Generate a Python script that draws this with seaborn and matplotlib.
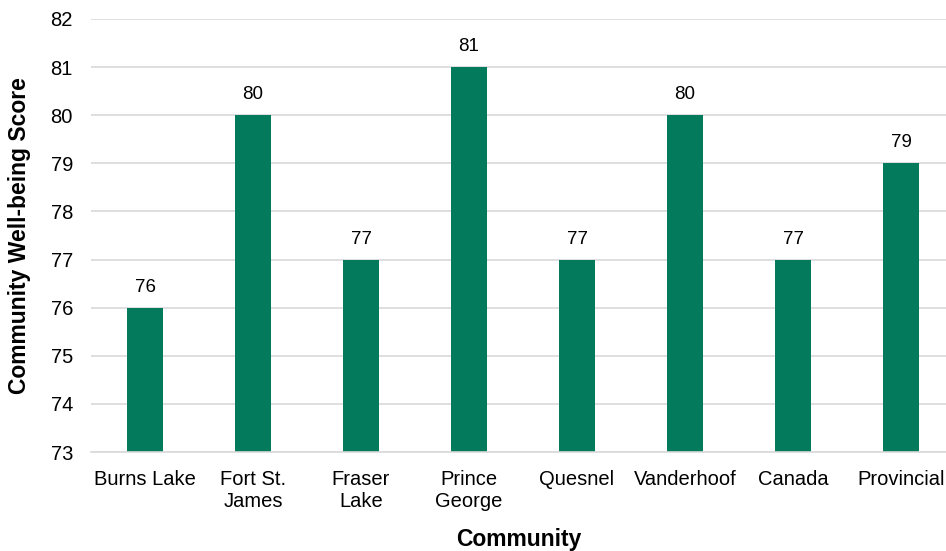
import matplotlib
matplotlib.use("Agg")
import matplotlib.pyplot as plt
import seaborn as sns
import pandas as pd

communities = ["Burns Lake", "Fort St.\nJames", "Fraser\nLake", "Prince\nGeorge",
               "Quesnel", "Vanderhoof", "Canada", "Provincial"]
scores = [76, 80, 77, 81, 77, 80, 77, 79]
y_ticks = [73, 74, 75, 76, 77, 78, 79, 80, 81, 82]

sns.set_theme(style="whitegrid")
plt.rcParams["font.family"] = ["Liberation Sans", "DejaVu Sans"]

df = pd.DataFrame({"Community": communities, "Score": scores})

fig = plt.figure(figsize=(9.46, 5.51), dpi=100)
ax = fig.add_axes([91 / 946, 1 - 452 / 551, (946 - 91) / 946, (452 - 19) / 551])

sns.barplot(data=df, x="Community", y="Score", color="#027A5B", saturation=1,
            width=0.33, linewidth=0, ax=ax)

ax.set_ylim(73, 82)
ax.set_yticks(y_ticks)
ax.set_xlim(-0.5, 7.5 - 9 / 108)

ax.grid(axis="y", color="#d9d9d9", linewidth=1.2)
ax.grid(axis="x", visible=False)
ax.set_axisbelow(True)
for side in ["left", "right", "top"]:
    ax.spines[side].set_visible(False)
ax.spines["bottom"].set_color("#d9d9d9")
ax.spines["bottom"].set_linewidth(1.2)

ax.tick_params(axis="both", length=0, labelsize=14.5, colors="#000000")
ax.tick_params(axis="x", pad=13)
ax.tick_params(axis="y", pad=13)
for lbl in ax.get_xticklabels():
    lbl.set_linespacing(1.2)

for i, v in enumerate(scores):
    ax.text(i, v + 0.25, f"{v}", ha="center", va="bottom", fontsize=13.5, color="#000000")

ax.set_xlabel("Community", fontsize=16.5, fontweight="bold", labelpad=12, color="#000000")
ax.set_ylabel("Community Well-being Score", fontsize=16.5, fontweight="bold",
              labelpad=14, color="#000000")

fig.savefig("out.png", dpi=100)
